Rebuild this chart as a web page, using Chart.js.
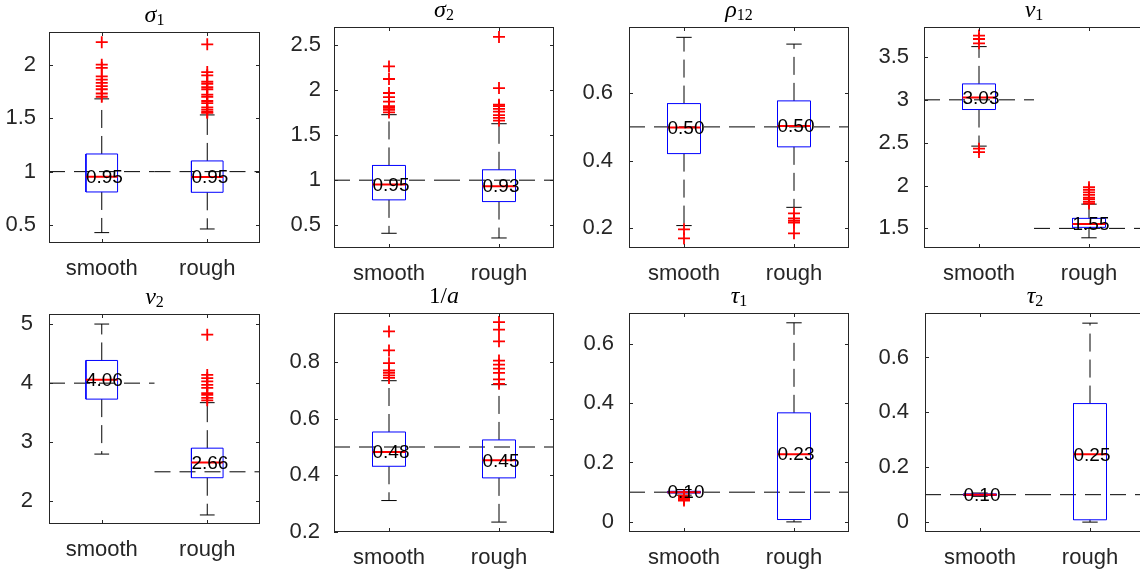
<!DOCTYPE html>
<html><head><meta charset="utf-8">
<script src="https://cdn.jsdelivr.net/npm/chart.js@4.4.1/dist/chart.umd.min.js"></script>
<style>
html,body{margin:0;padding:0;background:#fff;width:1140px;height:573px;overflow:hidden;position:relative}
canvas{position:absolute}
</style></head><body>
<script>
// ---------------- DATA ----------------
const categories = ['smooth', 'rough'];

// sigma_1
const sigma1Lower = [0.43, 0.464], sigma1Q1 = [0.81, 0.807], sigma1Median = [0.953, 0.951], sigma1Q3 = [1.165, 1.10], sigma1Upper = [1.68, 1.53], sigma1True = [1, 1];
const sigma1OutSmooth = [2.21, 2.00, 1.97, 1.89, 1.86, 1.83, 1.80, 1.77, 1.73, 1.70];
const sigma1OutRough = [2.19, 1.93, 1.90, 1.84, 1.82, 1.79, 1.77, 1.72, 1.70, 1.66, 1.64, 1.60, 1.58, 1.56, 1.55];
const sigma1Ticks = [0.5, 1, 1.5, 2];

// sigma_2
const sigma2Lower = [0.412, 0.36], sigma2Q1 = [0.782, 0.763], sigma2Median = [0.953, 0.934], sigma2Q3 = [1.163, 1.115], sigma2Upper = [1.725, 1.625], sigma2True = [1, 1];
const sigma2OutSmooth = [2.26, 2.12, 1.965, 1.92, 1.87, 1.82, 1.80, 1.78, 1.75];
const sigma2OutRough = [2.586, 2.02, 1.835, 1.82, 1.79, 1.76, 1.72, 1.69, 1.66];
const sigma2Ticks = [0.5, 1, 1.5, 2, 2.5];

// rho_12
const rho12Lower = [0.208, 0.262], rho12Q1 = [0.421, 0.441], rho12Median = [0.498, 0.503], rho12Q3 = [0.569, 0.577], rho12Upper = [0.765, 0.745], rho12True = [0.5, 0.5];
const rho12OutSmooth = [0.197, 0.170];
const rho12OutRough = [0.244, 0.229, 0.222, 0.217, 0.185];
const rho12Ticks = [0.2, 0.4, 0.6];

// nu_1
const nu1Lower = [2.46, 1.39], nu1Q1 = [2.887, 1.512], nu1Median = [3.027, 1.552], nu1Q3 = [3.186, 1.617], nu1Upper = [3.621, 1.783], nu1True = [3, 1.5];
const nu1OutSmooth = [3.75, 3.71, 3.66, 2.43, 2.39];
const nu1OutRough = [1.98, 1.95, 1.92, 1.89, 1.86, 1.84, 1.81, 1.79];
const nu1Ticks = [1.5, 2, 2.5, 3, 3.5];

// nu_2
const nu2Lower = [2.80, 1.77], nu2Q1 = [3.73, 2.40], nu2Median = [4.058, 2.657], nu2Q3 = [4.384, 2.90], nu2Upper = [5.0, 3.67], nu2True = [4, 2.5];
const nu2OutSmooth = [];
const nu2OutRough = [4.82, 4.14, 4.085, 4.03, 3.97, 3.92, 3.83, 3.80, 3.75, 3.71];
const nu2Ticks = [2, 3, 4, 5];

// 1/a
const invALower = [0.311, 0.235], invAQ1 = [0.432, 0.391], invAMedian = [0.482, 0.453], invAQ3 = [0.553, 0.525], invAUpper = [0.734, 0.72], invATrue = [0.5, 0.5];
const invAOutSmooth = [0.908, 0.841, 0.796, 0.770, 0.762, 0.753, 0.744];
const invAOutRough = [0.941, 0.914, 0.873, 0.805, 0.791, 0.777, 0.762, 0.739, 0.723];
const invATicks = [0.2, 0.4, 0.6, 0.8];

// tau_1
const tau1Lower = [0.090, 0.0], tau1Q1 = [0.097, 0.008], tau1Median = [0.100, 0.228], tau1Q3 = [0.103, 0.367], tau1Upper = [0.109, 0.67], tau1True = [0.1, 0.1];
const tau1OutSmooth = [0.088, 0.084, 0.080, 0.076, 0.072];
const tau1OutRough = [];
const tau1Ticks = [0, 0.2, 0.4, 0.6];

// tau_2
const tau2Lower = [0.094, 0.0], tau2Q1 = [0.097, 0.0085], tau2Median = [0.100, 0.247], tau2Q3 = [0.103, 0.432], tau2Upper = [0.106, 0.725], tau2True = [0.1, 0.1];
const tau2OutSmooth = [];
const tau2OutRough = [];
const tau2Ticks = [0, 0.2, 0.4, 0.6];

// ---------------- LAYOUT / STYLE ----------------
const PADL = 70, PADT = 36, PADR = 10, PADB = 50;
const BOX_HALF = 0.15, CAP_HALF = 0.07;
const AXIS_COLOR = '#262626';
const SANS = '"Liberation Sans", Arial, Helvetica, sans-serif';
const SERIF = '"Liberation Serif", "Times New Roman", serif';

const panels = [
  {title: [['σ', 'i'], ['1', 's']], box: [49, 32, 260, 243], ylim: [0.333, 2.305], ticks: sigma1Ticks, ypad: 5,
   lower: sigma1Lower, q1: sigma1Q1, med: sigma1Median, q3: sigma1Q3, upper: sigma1Upper, truth: sigma1True, out: [sigma1OutSmooth, sigma1OutRough]},
  {title: [['σ', 'i'], ['2', 's']], box: [334, 27, 554, 248], ylim: [0.249, 2.696], ticks: sigma2Ticks, ypad: 5,
   lower: sigma2Lower, q1: sigma2Q1, med: sigma2Median, q3: sigma2Q3, upper: sigma2Upper, truth: sigma2True, out: [sigma2OutSmooth, sigma2OutRough]},
  {title: [['ρ', 'i'], ['12', 's']], box: [629, 27, 849, 248], ylim: [0.1417, 0.7956], ticks: rho12Ticks, ypad: 8,
   lower: rho12Lower, q1: rho12Q1, med: rho12Median, q3: rho12Q3, upper: rho12Upper, truth: rho12True, out: [rho12OutSmooth, rho12OutRough]},
  {title: [['ν', 'i'], ['1', 's']], box: [924, 27, 1144, 248], ylim: [1.271, 3.85], ticks: nu1Ticks, ypad: 7,
   lower: nu1Lower, q1: nu1Q1, med: nu1Median, q3: nu1Q3, upper: nu1Upper, truth: nu1True, out: [nu1OutSmooth, nu1OutRough]},
  {title: [['ν', 'i'], ['2', 's']], box: [49, 314, 260, 524], ylim: [1.617, 5.17], ticks: nu2Ticks, ypad: 8,
   lower: nu2Lower, q1: nu2Q1, med: nu2Median, q3: nu2Q3, upper: nu2Upper, truth: nu2True, out: [nu2OutSmooth, nu2OutRough]},
  {title: [['1/', 'r'], ['a', 'i']], box: [334, 313, 554, 532], ylim: [0.2, 0.973], ticks: invATicks, ypad: 6,
   lower: invALower, q1: invAQ1, med: invAMedian, q3: invAQ3, upper: invAUpper, truth: invATrue, out: [invAOutSmooth, invAOutRough]},
  {title: [['τ', 'i'], ['1', 's']], box: [629, 313, 849, 532], ylim: [-0.034, 0.703], ticks: tau1Ticks, ypad: 7,
   lower: tau1Lower, q1: tau1Q1, med: tau1Median, q3: tau1Q3, upper: tau1Upper, truth: tau1True, out: [tau1OutSmooth, tau1OutRough]},
  {title: [['τ', 'i'], ['2', 's']], box: [925, 313, 1145, 532], ylim: [-0.036, 0.762], ticks: tau2Ticks, ypad: 8,
   lower: tau2Lower, q1: tau2Q1, med: tau2Median, q3: tau2Q3, upper: tau2Upper, truth: tau2True, out: [tau2OutSmooth, tau2OutRough]}
];

function lineDs(points, color, width, dash, order) {
  return {data: points, showLine: true, borderColor: color, backgroundColor: color, borderWidth: width,
          borderDash: dash || [], pointRadius: 0, pointHoverRadius: 0, fill: false, tension: 0, order: order};
}

function buildDatasets(p) {
  const ds = [];
  // reference (true value) lines
  p.truth.forEach((t, i) => {
    ds.push(lineDs([{x: i + 0.5, y: t}, {x: i + 1.5, y: t}], '#000', 1, [16, 9], 5));
  });
  categories.forEach((c, i) => {
    const x = i + 1;
    ds.push(lineDs([{x: x, y: p.q3[i]}, {x: x, y: p.upper[i]}], '#000', 1, [18, 8], 4));
    ds.push(lineDs([{x: x, y: p.q1[i]}, {x: x, y: p.lower[i]}], '#000', 1, [18, 8], 4));
    ds.push(lineDs([{x: x - CAP_HALF, y: p.upper[i]}, {x: x + CAP_HALF, y: p.upper[i]}], '#000', 1, null, 4));
    ds.push(lineDs([{x: x - CAP_HALF, y: p.lower[i]}, {x: x + CAP_HALF, y: p.lower[i]}], '#000', 1, null, 4));
    ds.push(lineDs([{x: x - BOX_HALF, y: p.q1[i]}, {x: x + BOX_HALF, y: p.q1[i]}, {x: x + BOX_HALF, y: p.q3[i]},
                    {x: x - BOX_HALF, y: p.q3[i]}, {x: x - BOX_HALF, y: p.q1[i]}], '#0000ff', 1, null, 3));
    ds.push(lineDs([{x: x - BOX_HALF, y: p.med[i]}, {x: x + BOX_HALF, y: p.med[i]}], '#ff0000', 2, null, 2));
    ds.push({data: p.out[i].map(v => ({x: x, y: v})), showLine: false, pointStyle: 'cross', pointRadius: 6,
             pointHoverRadius: 6, borderColor: '#ff0000', backgroundColor: '#ff0000', pointBorderWidth: 1.8, borderWidth: 1.8, order: 1});
  });
  return ds;
}

const framePlugin = {
  id: 'frame',
  afterDatasetsDraw(chart, args, opts) {
    const {ctx, chartArea: a, scales: {x, y}} = chart;
    ctx.save();
    // axes box
    ctx.strokeStyle = AXIS_COLOR;
    ctx.lineWidth = 1;
    ctx.strokeRect(Math.round(a.left) + 0.5, Math.round(a.top) + 0.5, Math.round(a.right - a.left) - 1, Math.round(a.bottom - a.top) - 1);
    const tl = 4;
    ctx.beginPath();
    y.ticks.forEach(t => {
      const py = Math.round(y.getPixelForValue(t.value)) + 0.5;
      ctx.moveTo(a.left, py); ctx.lineTo(a.left + tl, py);
      ctx.moveTo(a.right, py); ctx.lineTo(a.right - tl, py);
    });
    x.ticks.forEach(t => {
      const px = Math.round(x.getPixelForValue(t.value)) + 0.5;
      ctx.moveTo(px, a.bottom); ctx.lineTo(px, a.bottom - tl);
      ctx.moveTo(px, a.top); ctx.lineTo(px, a.top + tl);
    });
    ctx.stroke();
    // median labels
    ctx.fillStyle = '#000';
    ctx.font = '19px ' + SANS;
    ctx.textAlign = 'left';
    ctx.textBaseline = 'middle';
    opts.medians.forEach((m, i) => {
      ctx.fillText(m.toFixed(2), x.getPixelForValue(i + 1 - BOX_HALF), y.getPixelForValue(m) + 1);
    });
    // title with sub/italic parts
    const fonts = {i: 'italic 24px ' + SERIF, r: '23px ' + SERIF, s: '16px ' + SERIF};
    let total = 0;
    opts.title.forEach(([t, s]) => { ctx.font = fonts[s]; total += ctx.measureText(t).width; });
    let cx = (a.left + a.right) / 2 - total / 2;
    const base = a.top - 10;
    ctx.textAlign = 'left';
    ctx.textBaseline = 'alphabetic';
    ctx.fillStyle = '#000';
    opts.title.forEach(([t, s]) => {
      ctx.font = fonts[s];
      ctx.fillText(t, cx, s === 's' ? base + 3 : base);
      cx += ctx.measureText(t).width;
    });
    ctx.restore();
  }
};

panels.forEach(p => {
  const [L, T, R, B] = p.box;
  const W = R - L + PADL + PADR, H = B - T + PADT + PADB;
  const cv = document.createElement('canvas');
  cv.width = W; cv.height = H;
  cv.style.left = (L - PADL) + 'px'; cv.style.top = (T - PADT) + 'px';
  cv.style.width = W + 'px'; cv.style.height = H + 'px';
  document.body.appendChild(cv);
  new Chart(cv, {
    type: 'scatter',
    data: {datasets: buildDatasets(p)},
    options: {
      responsive: false, animation: false, devicePixelRatio: 1,
      events: [],
      layout: {padding: {left: 0, top: PADT, right: PADR, bottom: 0}},
      plugins: {legend: {display: false}, tooltip: {enabled: false},
                frame: {medians: p.med, title: p.title}},
      scales: {
        x: {type: 'linear', min: 0.5, max: 2.5,
            afterBuildTicks: s => { s.ticks = categories.map((c, i) => ({value: i + 1})); },
            afterFit: s => { s.height = PADB; },
            grid: {display: false}, border: {display: false},
            ticks: {callback: v => categories[Math.round(v) - 1], color: AXIS_COLOR, padding: 5,
                    font: {family: SANS, size: 22}, maxRotation: 0, autoSkip: false}},
        y: {type: 'linear', min: p.ylim[0], max: p.ylim[1],
            afterBuildTicks: s => { s.ticks = p.ticks.map(v => ({value: v})); },
            afterFit: s => { s.width = PADL; },
            grid: {display: false}, border: {display: false},
            ticks: {callback: v => String(+Number(v).toFixed(2)), color: AXIS_COLOR, padding: p.ypad,
                    font: {family: SANS, size: 22}, autoSkip: false}}
      }
    },
    plugins: [framePlugin]
  });
});
</script>
</body></html>
